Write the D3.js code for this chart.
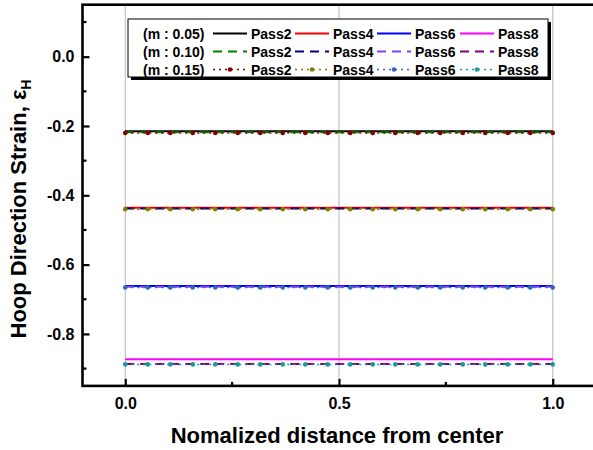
<!DOCTYPE html>
<html>
<head>
<meta charset="utf-8">
<script src="https://cdn.jsdelivr.net/npm/d3@7"></script>
<style>
  body { margin: 0; background: #fff; }
  svg { display: block; font-family: "Liberation Sans", Arial, sans-serif; font-weight: bold; }
</style>
</head>
<body>
<svg id="chart" width="593" height="450"></svg>
<script>
// x positions of the sampled points (normalized distance)
const xs = [0, 0.0526, 0.1053, 0.1579, 0.2105, 0.2632, 0.3158, 0.3684, 0.4211, 0.4737,
  0.5263, 0.5789, 0.6316, 0.6842, 0.7368, 0.7895, 0.8421, 0.8947, 0.9474, 1.0];

const passes = ["Pass2", "Pass4", "Pass6", "Pass8"];
const groups = ["(m : 0.05)", "(m : 0.10)", "(m : 0.15)"];

// hoop strain level for each pass, per friction factor
const m005 = [-0.215, -0.436, -0.662, -0.873];
const m010 = [-0.218, -0.438, -0.664, -0.887];
const m015 = [-0.220, -0.440, -0.666, -0.888];

const colors005 = ["#000000", "#ff0000", "#0000ff", "#ff00ff"];
const colors010 = ["#008000", "#000080", "#8040ff", "#800080"];
const colors015 = ["#800000", "#808000", "#3366bb", "#1a9a9a"];

const xMajor = [0, 0.5, 1.0];
const xMinor = [0.25, 0.75];
const yMajor = [0.0, -0.2, -0.4, -0.6, -0.8];
const yMinor = [0.1, -0.1, -0.3, -0.5, -0.7, -0.9];

const svg = d3.select("#chart");

const x = d3.scaleLinear().domain([-0.1, 1.1]).range([82.5, 595.5]);
const y = d3.scaleLinear().domain([0.15, -0.95]).range([4.7, 385.9]);

const fmt = d => d.toFixed(1);

const styles = [
  { vals: m005, colors: colors005, dash: null, marker: false },
  { vals: m010, colors: colors010, dash: "9,6", marker: false },
  { vals: m015, colors: colors015, dash: "2,4", marker: true }
];

// vertical grid lines
svg.append("g")
  .selectAll("line")
  .data(xMajor)
  .enter()
  .append("line")
  .attr("x1", d => x(d)).attr("x2", d => x(d))
  .attr("y1", y(0.15)).attr("y2", y(-0.95))
  .attr("stroke", "#b4b4b4")
  .attr("stroke-width", 1);

const line = d3.line().x(d => x(d.x)).y(d => y(d.y));

// series
styles.forEach(s => {
  s.vals.forEach((v, i) => {
    const pts = xs.map(px => ({ x: px, y: v }));
    svg.append("path")
      .datum(pts)
      .attr("fill", "none")
      .attr("stroke", s.colors[i])
      .attr("stroke-width", s.marker ? 1.5 : 2)
      .attr("stroke-dasharray", s.dash)
      .attr("d", line);
    if (s.marker) {
      svg.append("g")
        .selectAll("circle")
        .data(pts)
        .enter()
        .append("circle")
        .attr("cx", d => x(d.x))
        .attr("cy", d => y(d.y))
        .attr("r", 2.3)
        .attr("fill", s.colors[i]);
    }
  });
});

// frame
svg.append("rect")
  .attr("x", x(-0.1)).attr("y", y(0.15))
  .attr("width", x(1.1) - x(-0.1))
  .attr("height", y(-0.95) - y(0.15))
  .attr("fill", "none")
  .attr("stroke", "#000")
  .attr("stroke-width", 2.6);

// y axis
const yAxis = svg.append("g")
  .attr("transform", "translate(" + x(-0.1) + ",0)")
  .call(d3.axisLeft(y).tickValues(yMajor).tickFormat(fmt)
    .tickSizeInner(-7).tickSizeOuter(0).tickPadding(8));
yAxis.select(".domain").remove();
yAxis.selectAll("line").attr("stroke-width", 2.2);
yAxis.selectAll("text").style("font-size", "16px").attr("fill", "#000");

svg.append("g")
  .selectAll("line")
  .data(yMinor)
  .enter()
  .append("line")
  .attr("x1", x(-0.1)).attr("x2", x(-0.1) + 4)
  .attr("y1", d => y(d)).attr("y2", d => y(d))
  .attr("stroke", "#000").attr("stroke-width", 2.2);

// x axis
const xAxis = svg.append("g")
  .attr("transform", "translate(0," + y(-0.95) + ")")
  .call(d3.axisBottom(x).tickValues(xMajor).tickFormat(fmt)
    .tickSizeInner(-7).tickSizeOuter(0).tickPadding(12));
xAxis.select(".domain").remove();
xAxis.selectAll("line").attr("stroke-width", 2.2);
xAxis.selectAll("text").style("font-size", "16px").attr("fill", "#000");

svg.append("g")
  .selectAll("line")
  .data(xMinor)
  .enter()
  .append("line")
  .attr("x1", d => x(d)).attr("x2", d => x(d))
  .attr("y1", y(-0.95)).attr("y2", y(-0.95) - 4)
  .attr("stroke", "#000").attr("stroke-width", 2.2);

// axis titles
svg.append("text")
  .attr("x", 337)
  .attr("y", 443)
  .attr("text-anchor", "middle")
  .style("font-size", "22px")
  .text("Nomalized distance from center");

const yt = svg.append("text")
  .attr("transform", "translate(26,209) rotate(-90)")
  .attr("text-anchor", "middle")
  .style("font-size", "22px");
yt.append("tspan").text("Hoop Direction Strain, \u03b5");
yt.append("tspan").attr("dy", 5).style("font-size", "14px").text("H");

// legend
const lg = svg.append("g");
const boxX = 128, boxY = 19, boxW = 420, boxH = 58;
lg.append("rect")
  .attr("x", boxX + 3).attr("y", boxY + 3)
  .attr("width", boxW).attr("height", boxH)
  .attr("fill", "#000");
lg.append("rect")
  .attr("x", boxX).attr("y", boxY)
  .attr("width", boxW).attr("height", boxH)
  .attr("fill", "#fff")
  .attr("stroke", "#000")
  .attr("stroke-width", 1);

const rowY = [33.5, 51.5, 69.5];
const sampleX = [213, 295, 377, 460];

groups.forEach((g, r) => {
  lg.append("text")
    .attr("x", 143)
    .attr("y", rowY[r] + 5)
    .style("font-size", "14px")
    .text(g);
  passes.forEach((p, i) => {
    const s = styles[r];
    lg.append("line")
      .attr("x1", sampleX[i]).attr("x2", sampleX[i] + 34)
      .attr("y1", rowY[r]).attr("y2", rowY[r])
      .attr("stroke", s.colors[i])
      .attr("stroke-width", s.marker ? 1.5 : 2)
      .attr("stroke-dasharray", s.dash);
    if (s.marker) {
      lg.append("circle")
        .attr("cx", sampleX[i] + 17).attr("cy", rowY[r])
        .attr("r", 2.3)
        .attr("fill", s.colors[i]);
    }
    lg.append("text")
      .attr("x", sampleX[i] + 38)
      .attr("y", rowY[r] + 5)
      .style("font-size", "14px")
      .text(p);
  });
});
</script>
</body>
</html>
